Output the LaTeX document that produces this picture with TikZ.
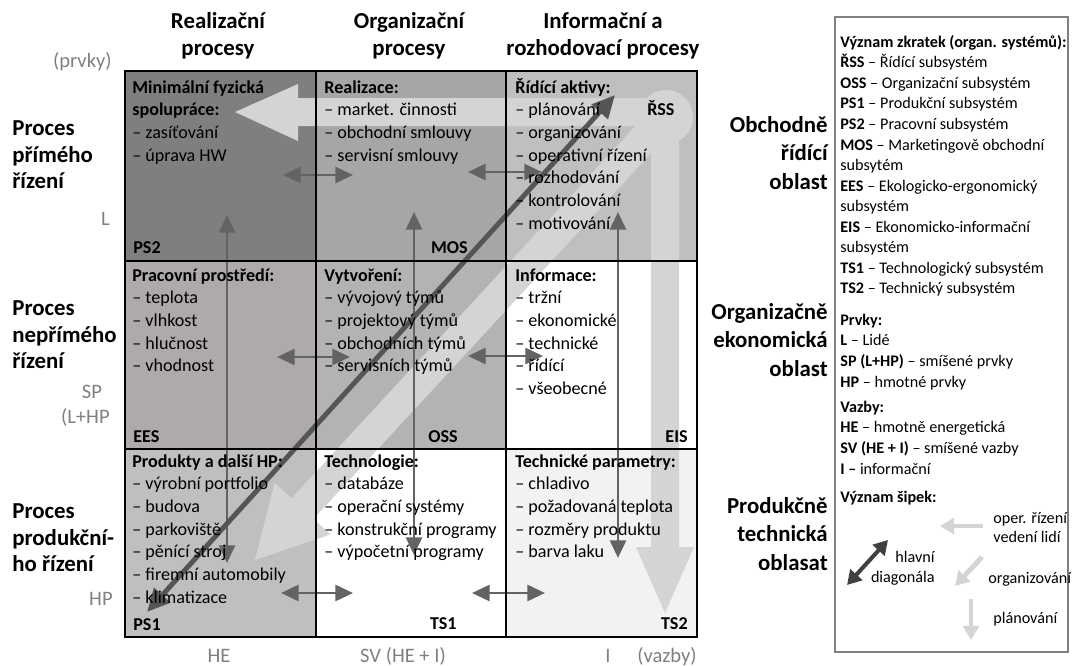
\documentclass[tikz,border=0pt]{standalone}
\usepackage{fontspec}
\setmainfont{Carlito}
\usetikzlibrary{arrows.meta}
\definecolor{cellA}{HTML}{7F7F7F}
\definecolor{cellB}{HTML}{A6A6A6}
\definecolor{cellC}{HTML}{BFBFBF}
\definecolor{cellD}{HTML}{AEAAAA}
\definecolor{cellE}{HTML}{B3B3B3}
\definecolor{cellF}{HTML}{F2F2F2}
\definecolor{flowgray}{HTML}{D4D4D4}
\definecolor{linkgray}{HTML}{636363}
\definecolor{diaggray}{HTML}{555555}
\definecolor{axisgray}{HTML}{808080}
\tikzset{
	cell/.style={anchor=north west, inner sep=0pt, align=left, font=\fontsize{10.3}{12.9}\selectfont},
	tag/.style={inner sep=0pt, font=\fontsize{10.3}{12.9}\selectfont\bfseries},
	head/.style={anchor=north, inner sep=0pt, align=center, font=\fontsize{13}{15.3}\selectfont\bfseries},
	side/.style={inner sep=0pt, font=\fontsize{13}{15.3}\selectfont\bfseries},
	axis/.style={inner sep=0pt, text=axisgray, font=\fontsize{11.7}{14}\selectfont},
	legend/.style={anchor=north west, inner sep=0pt, align=left, font=\fontsize{9.2}{11.7}\selectfont},
	note/.style={inner sep=0pt, font=\fontsize{9.2}{11}\selectfont},
	link/.style={draw=linkgray, line width=1.7pt, {Triangle[length=10pt,width=9pt]}-{Triangle[length=10pt,width=9pt]}},
	mainlink/.style={draw=diaggray, line width=2.8pt, {Triangle[length=13pt,width=12pt]}-{Triangle[length=13pt,width=12pt]}},
	flow/.style={fill=flowgray},
	grid/.style={draw=black, line width=1.7pt}
}

\begin{document}
\begin{tikzpicture}[x=0.02cm, y=-0.02cm]
	\useasboundingbox (0,0) rectangle (1076,666);
	
	% cell fills
	\fill[cellA] (125,71) rectangle (316,261);
	\fill[cellB] (316,71) rectangle (506,261);
	\fill[cellC] (506,71) rectangle (697,261);
	\fill[cellD] (125,261) rectangle (316,449);
	\fill[cellE] (316,261) rectangle (506,449);
	\fill[white] (506,261) rectangle (697,449);
	\fill[cellC] (125,449) rectangle (316,637);
	\fill[white] (316,449) rectangle (506,637);
	\fill[cellF] (506,449) rectangle (697,637);
	
	% big light arrows from the corner
	\fill[flow] (666,117) circle (27);
	\fill[flow] (666,98) -- (298,98) -- (298,84) -- (235,112) -- (298,141) -- (298,126) -- (666,126) -- cycle;
	\fill[flow] (651,117) -- (651,547) -- (636,547) -- (665,613) -- (694,547) -- (679,547) -- (679,117) -- cycle;
	\fill[flow] (677,125.2) -- (313.5,518.8) -- (330.4,534.4) -- (255,560) -- (274.6,482.8) -- (291.5,498.4) -- (655,104.8) -- cycle;
	
	% links between cells
	\foreach \n/\xa/\xb/\yy in {a/283/353/175, b/468/542/172, c/277/350/357, d/468/543/356, e/281/353/593, f/472/545/593}
	{
		\coordinate (\n1) at (\xa,\yy);
		\coordinate (\n2) at (\xb,\yy);
		\draw[link] (\n1) -- (\n2);
	}
	\foreach \n/\xx/\ya/\yb in {g/227/215/563, h/414/212/555, k/618/212/558}
	{
		\coordinate (\n1) at (\xx,\ya);
		\coordinate (\n2) at (\xx,\yb);
		\draw[link] (\n1) -- (\n2);
	}
	\coordinate (dlow) at (147,612);
	\coordinate (dtop) at (615,95);
	\draw[mainlink] (dlow) -- (dtop);
	
	% grid
	\draw[grid] (125,71) rectangle (697,637);
	\foreach \xx in {316,506} \draw[grid] (\xx,71) -- (\xx,637);
	\foreach \yy in {261,449} \draw[grid] (125,\yy) -- (697,\yy);
	
	% cell texts
	\node[cell] (t11) at (132,77) {\strut\textbf{Minimální fyzická}\\\textbf{spolupráce:}\\-- zasíťování\\-- úprava HW};
	\node[cell] (t12) at (324,77) {\strut\textbf{Realizace:}\\-- market. činnosti\\-- obchodní smlouvy\\-- servisní smlouvy};
	\node[cell] (t13) at (515,77) {\strut\textbf{Řídící aktivy:}\\-- plánování\\-- organizování\\-- operativní řízení\\-- rozhodování\\-- kontrolování\\-- motivování};
	\node[cell] (t21) at (132,265) {\strut\textbf{Pracovní prostředí:}\\-- teplota\\-- vlhkost\\-- hlučnost\\-- vhodnost};
	\node[cell] (t22) at (324,265) {\strut\textbf{Vytvoření:}\\-- vývojový týmů\\-- projektový týmů\\-- obchodních týmů\\-- servisních týmů};
	\node[cell] (t23) at (515,265) {\strut\textbf{Informace:}\\-- tržní\\-- ekonomické\\-- technické\\-- řídící\\-- všeobecné};
	\node[cell] (t31) at (132,451) {\strut\textbf{Produkty a další HP:}\\-- výrobní portfolio\\-- budova\\-- parkoviště\\-- pěnící stroj\\-- firemní automobily\\-- klimatizace};
	\node[cell] (t32) at (324,451) {\strut\textbf{Technologie:}\\-- databáze\\-- operační systémy\\-- konstrukční programy\\-- výpočetní programy};
	\node[cell] (t33) at (515,451) {\strut\textbf{Technické parametry:}\\-- chladivo\\-- požadovaná teplota\\-- rozměry produktu\\-- barva laku};
	
	% subsystem tags
	\node[tag, anchor=base west] (ps2) at (133,253) {PS2};
	\node[tag, anchor=base east] (mos) at (468,253) {MOS};
	\node[tag, anchor=base west] (rss) at (647,115) {ŘSS};
	\node[tag, anchor=base west] (ees) at (133,442) {EES};
	\node[tag, anchor=base east] (oss) at (458,442) {OSS};
	\node[tag, anchor=base east] (eis) at (688,442) {EIS};
	\node[tag, anchor=base west] (ps1) at (133,630) {PS1};
	\node[tag, anchor=base east] (ts1) at (457,629) {TS1};
	\node[tag, anchor=base east] (ts2) at (688,629) {TS2};
	
	% column headers
	\node[head] (hreal) at (218,9) {\strut Realizační\\procesy};
	\node[head] (horg) at (409,9) {\strut Organizační\\procesy};
	\node[head] (hinf) at (603,9) {\strut Informační a\\rozhodovací procesy};
	
	% row labels
	\node[side, anchor=north west, align=left] (rprim) at (12,116) {\strut Proces\\přímého\\řízení};
	\node[side, anchor=north west, align=left] (rnep) at (12,296) {\strut Proces\\nepřímého\\řízení};
	\node[side, anchor=north west, align=left] (rprod) at (12,499) {\strut Proces\\produkční-\\ho řízení};
	
	% area labels
	\node[side, anchor=north east, align=right, font=\fontsize{13}{16.2}\selectfont\bfseries] (aobch) at (828,112) {\strut Obchodně\\řídící\\oblast};
	\node[side, anchor=north east, align=right, font=\fontsize{13}{16.2}\selectfont\bfseries] (aorg) at (828,299) {\strut Organizačně\\ekonomická\\oblast};
	\node[side, anchor=north east, align=right, font=\fontsize{13}{16.2}\selectfont\bfseries] (aprod) at (828,493) {\strut Produkčně\\technická\\oblasat};
	
	% axis labels
	\node[axis, anchor=base east] (prvky) at (112,67) {(prvky)};
	\node[axis, anchor=base east] (lL) at (110,225) {L};
	\node[axis, anchor=base] (lSP) at (92,398) {SP};
	\node[axis, anchor=base east] (lLHP) at (110,423) {(L+HP};
	\node[axis, anchor=base east] (lHP) at (113,605) {HP};
	\node[axis, anchor=base] (lHE) at (219,662) {HE};
	\node[axis, anchor=base] (lSV) at (403,662) {SV (HE + I)};
	\node[axis, anchor=base] (lI) at (608,662) {I};
	\node[axis, anchor=base] (vazby) at (667,662) {(vazby)};
	
	% legend
	\draw[axisgray, line width=0.6pt] (835,17) rectangle (1068,652);
	\node[legend] (lgabbr) at (840,32.5) {\strut\textbf{Význam zkratek (organ. systémů):}\\
		\textbf{ŘSS} -- Řídící subsystém\\
		\textbf{OSS} -- Organizační subsystém\\
		\textbf{PS1} -- Produkční subsystém\\
		\textbf{PS2} -- Pracovní subsystém\\
		\textbf{MOS} -- Marketingově obchodní\\
		subsytém\\
		\textbf{EES} -- Ekologicko-ergonomický\\
		subsystém\\
		\textbf{EIS} -- Ekonomicko-informační\\
		subsystém\\
		\textbf{TS1} -- Technologický subsystém\\
		\textbf{TS2} -- Technický subsystém};
	\node[legend] (lgprvky) at (840,310.6) {\strut\textbf{Prvky:}\\
		\textbf{L} -- Lidé\\
		\textbf{SP (L+HP)} -- smíšené prvky\\
		\textbf{HP} -- hmotné prvky};
	\node[legend] (lgvazby) at (840,397.6) {\strut\textbf{Vazby:}\\
		\textbf{HE} -- hmotně energetická\\
		\textbf{SV (HE + I)} -- smíšené vazby\\
		\textbf{I --} informační};
	\node[legend] (lgsipky) at (840,487.6) {\strut\textbf{Význam šipek:}};
	
	% legend arrows
	\coordinate (oa) at (983,526); \coordinate (ob) at (940,526);
	\coordinate (ga) at (982,557); \coordinate (gb) at (955,586);
	\coordinate (pa) at (971,599); \coordinate (pb) at (971,640);
	\coordinate (ma) at (847,585); \coordinate (mb) at (888,540);
	\draw[flowgray, line width=2.8pt, -{Triangle[length=8pt,width=9pt]}] (oa) -- (ob);
	\draw[flowgray, line width=2.8pt, -{Triangle[length=8pt,width=9pt]}] (ga) -- (gb);
	\draw[flowgray, line width=2.8pt, -{Triangle[length=8pt,width=9pt]}] (pa) -- (pb);
	\draw[black!75, line width=2.3pt, {Triangle[length=8pt,width=9pt]}-{Triangle[length=8pt,width=9pt]}] (ma) -- (mb);
	\node[note, anchor=base west] (noper) at (993,523) {oper. řízení};
	\node[note, anchor=base west] (nved) at (993,542) {vedení lidí};
	\node[note, anchor=base east] (nhl) at (935,562) {hlavní};
	\node[note, anchor=base east] (ndiag) at (935,582) {diagonála};
	\node[note, anchor=base west] (norg) at (988,583) {organizování};
	\node[note, anchor=base west] (nplan) at (993,623) {plánování};
\end{tikzpicture}
\end{document}
